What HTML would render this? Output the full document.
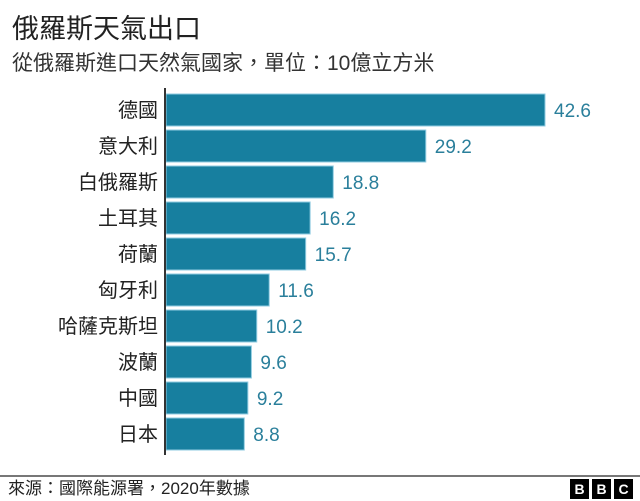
<!DOCTYPE html>
<html><head><meta charset="utf-8"><style>
body{margin:0;background:#fff;width:640px;height:501px;overflow:hidden;font-family:"Liberation Sans","Noto Sans CJK TC",sans-serif;position:relative}
.t{position:absolute;white-space:nowrap}
</style></head><body>
<div class="t" style="left:12px;top:13px;font-size:27px;line-height:32px;color:#222">俄羅斯天氣出口</div>
<div class="t" style="left:12px;top:51px;font-size:21px;line-height:26px;color:#333">從俄羅斯進口天然氣國家，單位：10億立方米</div>
<svg id="c" width="640" height="501" style="position:absolute;left:0;top:0"></svg>
<div style="position:absolute;left:0;top:475px;width:640px;height:2px;background:#777"></div>
<div class="t" style="left:8px;top:479px;font-size:17px;line-height:20px;color:#222">來源：國際能源署，2020年數據</div>
<div style="position:absolute;left:570px;top:479px;display:flex;gap:3px">
<span style="width:19px;height:20px;background:#000;color:#fff;font:bold 14px 'Liberation Sans';display:flex;align-items:center;justify-content:center">B</span>
<span style="width:19px;height:20px;background:#000;color:#fff;font:bold 14px 'Liberation Sans';display:flex;align-items:center;justify-content:center">B</span>
<span style="width:19px;height:20px;background:#000;color:#fff;font:bold 14px 'Liberation Sans';display:flex;align-items:center;justify-content:center">C</span>
</div>
<script>
const categories=["德國","意大利","白俄羅斯","土耳其","荷蘭","匈牙利","哈薩克斯坦","波蘭","中國","日本"];
const values=[42.6,29.2,18.8,16.2,15.7,11.6,10.2,9.6,9.2,8.8];
const valueLabels=["42.6","29.2","18.8","16.2","15.7","11.6","10.2","9.6","9.2","8.8"];
const svg=document.getElementById('c');
const NS='http://www.w3.org/2000/svg';
const x0=166,xs=v=>x0+v*(379/42.6);
const yc=i=>110+i*36;
categories.forEach((c,i)=>{
  const r=document.createElementNS(NS,'rect');
  r.setAttribute('x',x0);r.setAttribute('y',yc(i)-16);
  r.setAttribute('width',xs(values[i])-x0);r.setAttribute('height',32);
  r.setAttribute('fill','#177f9f');r.setAttribute('stroke','#8fcbe0');r.setAttribute('stroke-width','1');
  
  
  svg.appendChild(r);
  const l=document.createElementNS(NS,'text');
  l.setAttribute('x',158);l.setAttribute('y',yc(i)+7);l.setAttribute('text-anchor','end');
  l.setAttribute('font-size','20');l.setAttribute('fill','#222');
  l.setAttribute('font-family','"Liberation Sans","Noto Sans CJK TC",sans-serif');
  l.textContent=c;
  
  
  svg.appendChild(l);
  const v=document.createElementNS(NS,'text');
  v.setAttribute('x',xs(values[i])+9);v.setAttribute('y',yc(i)+7);
  v.setAttribute('font-size','19');v.setAttribute('fill','#2a7f9b');
  v.setAttribute('font-family','"Liberation Sans",sans-serif');
  v.textContent=valueLabels[i];
  
  
  svg.appendChild(v);
});
const ax=document.createElementNS(NS,'line');
ax.setAttribute('x1',165);ax.setAttribute('x2',165);ax.setAttribute('y1',88);ax.setAttribute('y2',455);
ax.setAttribute('stroke','#333');ax.setAttribute('stroke-width','2');


svg.appendChild(ax);
</script>
</body></html>
